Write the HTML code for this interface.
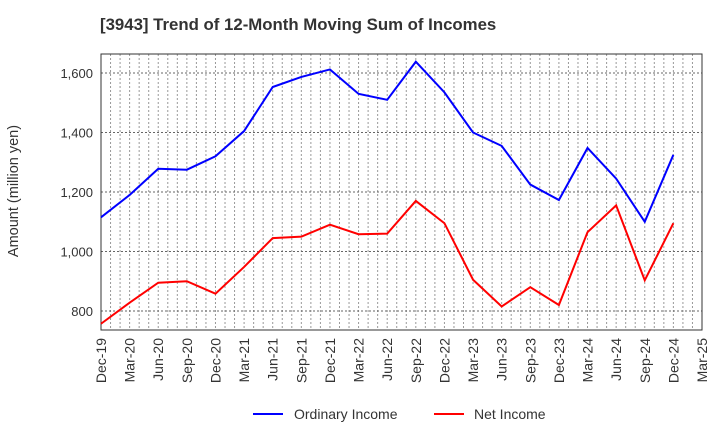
<!DOCTYPE html>
<html><head><meta charset="utf-8"><style>
body{margin:0;background:#fff;font-family:"Liberation Sans",sans-serif}
</style></head><body>
<svg id="chart" width="720" height="440" xmlns="http://www.w3.org/2000/svg" font-family="Liberation Sans, sans-serif">
<text x="100" y="30" font-size="16.8" font-weight="bold" fill="#333">[3943]  Trend of 12-Month Moving Sum of Incomes</text>
<g id="grid"></g>
<g id="axes"></g>
<g id="series"></g>
<text transform="translate(18,191) rotate(-90)" text-anchor="middle" font-size="14.5" fill="#333">Amount (million yen)</text>
<g>
<line x1="253" y1="414" x2="283" y2="414" stroke="#0000ff" stroke-width="2"/>
<text x="294" y="419" font-size="14" fill="#333">Ordinary Income</text>
<line x1="434" y1="414" x2="464" y2="414" stroke="#ff0000" stroke-width="2"/>
<text x="474" y="419" font-size="14" fill="#333">Net Income</text>
</g>
</svg>
<script>
const categories=["Dec-19","Mar-20","Jun-20","Sep-20","Dec-20","Mar-21","Jun-21","Sep-21","Dec-21","Mar-22","Jun-22","Sep-22","Dec-22","Mar-23","Jun-23","Sep-23","Dec-23","Mar-24","Jun-24","Sep-24","Dec-24","Mar-25"];
const ordinaryIncome=[1115,1190,1278,1275,1320,1405,1553,1587,1612,1530,1510,1638,1535,1400,1355,1225,1173,1348,1245,1100,1325];
const netIncome=[757,828,895,900,858,948,1045,1050,1090,1058,1060,1170,1095,905,815,880,820,1065,1155,903,1095];
const yTicks=[800,1000,1200,1400,1600];
const L=101,R=702,T=54,B=330,yMin=736,yMax=1664;
const NS="http://www.w3.org/2000/svg";
const xs=i=>L+(R-L)*i/(categories.length-1);
const ys=v=>B-(v-yMin)/(yMax-yMin)*(B-T);
function mk(p,t,a){const e=document.createElementNS(NS,t);for(const k in a)e.setAttribute(k,a[k]);p.appendChild(e);return e;}
const grid=document.getElementById('grid'),axes=document.getElementById('axes'),ser=document.getElementById('series');
const nm=(categories.length-1)*3;
for(let m=1;m<nm;m++){const x=L+(R-L)*m/nm;const l=mk(grid,'line',{x1:x,x2:x,y1:T,y2:B,stroke:'#999','stroke-dasharray':'2,2','stroke-width':1});

}
yTicks.forEach(v=>{const y=ys(v);const l=mk(grid,'line',{x1:L,x2:R,y1:y,y2:y,stroke:'#666','stroke-dasharray':'2,2','stroke-width':1});


const t=mk(axes,'text',{x:L-8,y:y+5,'text-anchor':'end','font-size':13,fill:'#333'});t.textContent=v.toLocaleString('en-US');

});
categories.forEach((c,i)=>{const x=xs(i);const t=mk(axes,'text',{transform:`translate(${x+5},${B+8}) rotate(-90)`,'text-anchor':'end','font-size':14,fill:'#333'});t.textContent=c;

});
const fr=mk(axes,'rect',{x:L,y:T,width:R-L,height:B-T,fill:'none',stroke:'#333','stroke-width':1});


function line(d,c,n){const p=mk(ser,'polyline',{points:d.map((v,i)=>xs(i)+','+ys(v)).join(' '),fill:'none',stroke:c,'stroke-width':2});

}
line(ordinaryIncome,'#0000ff','ordinary-income-line');
line(netIncome,'#ff0000','net-income-line');
</script>
</body></html>
